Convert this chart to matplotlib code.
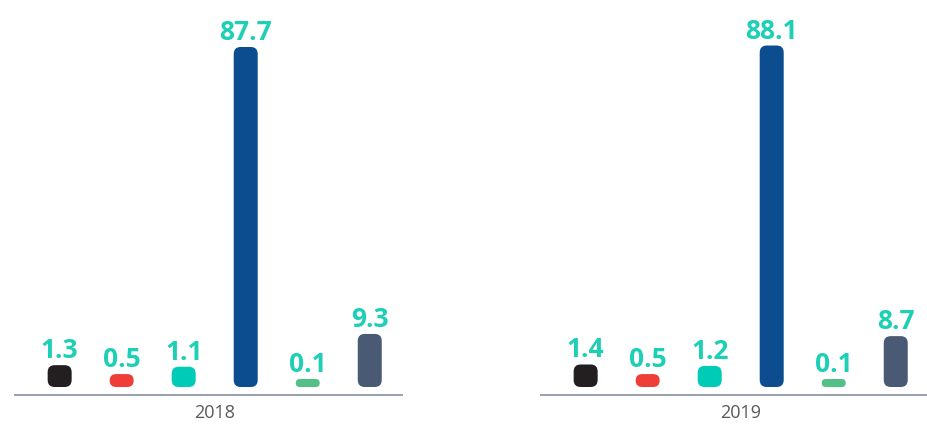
import numpy as np
import matplotlib
matplotlib.use('Agg')
import matplotlib.pyplot as plt
from matplotlib.patches import FancyBboxPatch
from matplotlib.transforms import IdentityTransform

plt.rcParams['font.family'] = ['Open Sans', 'DejaVu Sans']

# ---- data ----
years = ['2018', '2019']
categories = ['c1', 'c2', 'c3', 'c4', 'c5', 'c6']
values_2018 = [1.3, 0.5, 1.1, 87.7, 0.1, 9.3]
values_2019 = [1.4, 0.5, 1.2, 88.1, 0.1, 8.7]
bar_colors = ['#231f20', '#ef3e37', '#00cbb6', '#0b4d8f', '#55bf88', '#4a5a75']
label_color = '#1ccfb5'

# ---- non-linear value scale (small values emphasised, as in the reference) ----
B, C = 5.2, 0.571


def fwd(v):
    v = np.asarray(v, float)
    return v + B * (1 - np.exp(-np.clip(v, 0, None) / C))


_grid = np.linspace(-10, 300, 31001)
_fgrid = fwd(_grid)


def inv(y):
    return np.interp(y, _fgrid, _grid)


W, H = 928, 424
DPI = 100
fig = plt.figure(figsize=(W / DPI, H / DPI), dpi=DPI)

ax_bottom_px = 387      # from top
ax_top_px = 10
ax_h = ax_bottom_px - ax_top_px
px_per_unit = 3.66
ymax = float(inv(ax_h / px_per_unit))

panels = [(15, values_2018, years[0]), (541, values_2019, years[1])]
bar_w = 0.387
x = np.arange(len(categories))

for left_px, vals, yr in panels:
    ax = fig.add_axes([left_px / W, (H - ax_bottom_px) / H, 387 / W, ax_h / H])
    ax.set_yscale('function', functions=(fwd, inv))
    ax.set_xlim(-0.72, 5.52)
    ax.set_ylim(0, ymax)
    for s in ['top', 'right', 'left']:
        ax.spines[s].set_visible(False)
    ax.spines['bottom'].set_position(('outward', 8 * 72 / DPI))
    ax.spines['bottom'].set_color('#8f97a8')
    ax.spines['bottom'].set_linewidth(1.3)
    ax.set_xticks([])
    ax.set_yticks([])
    ax.patch.set_visible(False)

    bars = ax.bar(x, vals, width=bar_w, color=bar_colors)
    for b in bars:
        b.set_visible(False)

    for xi, v, col in zip(x, vals, bar_colors):
        (x0, y0) = ax.transData.transform((xi - bar_w / 2, 0))
        (x1, y1) = ax.transData.transform((xi + bar_w / 2, v))
        h = y1 - y0
        hd = max(h, 8)
        r = min(7, hd / 2)
        patch = FancyBboxPatch((x0, y0), x1 - x0, hd,
                               boxstyle=f"round,pad=0,rounding_size={r}",
                               transform=IdentityTransform(),
                               facecolor=col, edgecolor='none')
        fig.add_artist(patch)
        ax.annotate(f'{v:.1f}', xy=(xi, v), xytext=(0, (hd - h) + 7),
                    textcoords='offset pixels', ha='center', va='baseline',
                    fontsize=19, fontweight='bold', color=label_color,
                    annotation_clip=False)

    ax.annotate(yr, xy=(2.5, 0), xycoords=('data', 'axes fraction'),
                xytext=(0, -26), textcoords='offset pixels',
                ha='center', va='center', fontsize=13, color='#595959',
                annotation_clip=False)

fig.savefig('out.png', dpi=DPI)
